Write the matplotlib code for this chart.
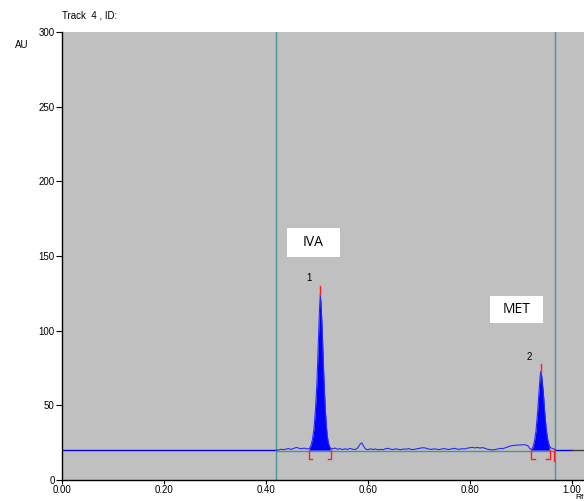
import matplotlib
matplotlib.use("Agg")
import matplotlib.pyplot as plt
from matplotlib.patches import Rectangle

plt.rcParams['font.family'] = ['Liberation Sans', 'DejaVu Sans']

# --- data ---
BASELINE = 20.0
track_start, track_end = 0.42, 0.968

rf = [0.420, 0.425, 0.430, 0.435, 0.440, 0.445, 0.450, 0.455, 0.460, 0.465,
      0.470, 0.475, 0.480, 0.485,
      0.488, 0.491, 0.494, 0.497, 0.500, 0.503, 0.505, 0.5065, 0.508, 0.510,
      0.512, 0.514, 0.516, 0.518, 0.520, 0.522, 0.524, 0.526,
      0.530, 0.535, 0.540, 0.545, 0.550, 0.555, 0.560, 0.565, 0.570, 0.575,
      0.580, 0.585, 0.588, 0.591, 0.595, 0.600, 0.605, 0.610, 0.615, 0.620,
      0.625, 0.630, 0.635, 0.640, 0.645, 0.650, 0.655, 0.660, 0.665, 0.670,
      0.675, 0.680, 0.685, 0.690, 0.695, 0.700, 0.705, 0.710, 0.715, 0.720,
      0.725, 0.730, 0.735, 0.740, 0.745, 0.750, 0.755, 0.760, 0.765, 0.770,
      0.775, 0.780, 0.785, 0.790, 0.795, 0.800, 0.805, 0.810, 0.815, 0.820,
      0.825, 0.830, 0.835, 0.840, 0.845, 0.850, 0.855, 0.860, 0.865, 0.870,
      0.875, 0.880, 0.885, 0.890, 0.895, 0.900, 0.905, 0.910, 0.914, 0.918,
      0.921,
      0.924, 0.927, 0.930, 0.933, 0.936, 0.938, 0.939, 0.941, 0.944, 0.947,
      0.950, 0.953, 0.956, 0.959, 0.962, 0.965, 0.968]
au = [20.0, 20.2, 20.6, 20.3, 20.8, 21.0, 20.5, 21.3, 21.8, 21.2,
      20.9, 21.4, 20.8, 21.0,
      23.0, 27.0, 34.0, 47.0, 66.0, 95.0, 115.0, 124.0, 118.0, 102.0,
      82.0, 64.0, 49.0, 38.0, 30.0, 25.5, 23.0, 21.5,
      20.8, 21.4, 20.6, 21.0, 20.4, 20.9, 20.5, 21.2, 20.6, 20.4,
      21.5, 24.2, 24.8, 23.0, 20.8, 20.3, 20.9, 20.4, 20.8, 20.2,
      20.5, 20.3, 21.0, 21.2, 20.6, 20.4, 20.9, 20.5, 20.3, 20.8,
      20.6, 21.0, 20.5, 20.4, 20.9, 21.1, 21.5, 21.6, 21.2, 20.7,
      20.5, 20.9, 20.6, 20.4, 20.8, 21.0, 20.6, 20.5, 20.9, 21.2,
      20.7, 20.6, 21.0, 20.8, 21.3, 21.6, 21.9, 21.5, 21.8, 21.4,
      21.7, 21.2, 20.6, 20.3, 20.2, 20.4, 20.8, 21.2, 21.0, 21.6,
      22.2, 22.8, 23.1, 23.3, 23.4, 23.5, 23.6, 23.5, 23.0, 21.0,
      20.5,
      22.0, 26.0, 33.0, 45.0, 60.0, 69.0, 72.5, 70.0, 60.0, 46.0,
      34.0, 27.0, 23.0, 21.5, 21.2, 20.8, 20.2]

peak_labels = ['1', '2']
peak_rf = [0.5065, 0.939]
peak_top = [124.0, 72.5]
peak_marker_top = [130.0, 77.5]
peak_start = [0.484, 0.921]
peak_end = [0.528, 0.957]
compound_names = ['IVA', 'MET']

x_ticks = [0.0, 0.2, 0.4, 0.6, 0.8, 1.0]
y_ticks = [0, 50, 100, 150, 200, 250, 300]

BLUE = '#0000ff'
TRACE = '#2a2aff'
TEAL = '#4a9494'
RED = '#ff2020'

fig = plt.figure(figsize=(5.84, 5.01), dpi=100)
ax = fig.add_axes([0.1067, 0.0419, 0.8933, 0.8942])
ax.set_facecolor('#c0c0c0')
ax.set_xlim(0, 1.0242)
ax.set_ylim(0, 300)

# baseline outside the track
ax.plot([0, track_start], [BASELINE, BASELINE], color=BLUE, lw=1)
ax.plot([track_end, 1.0], [BASELINE, BASELINE], color=BLUE, lw=1)
ax.plot([1.0, 1.0242], [BASELINE, BASELINE], color='#404040', lw=1)
ax.plot([track_start, track_end], [BASELINE - 0.3, BASELINE - 0.3], color=TEAL, lw=1)

# track limits
ax.axvline(track_start, color=TEAL, lw=1)
ax.axvline(track_end, color=TEAL, lw=1)

# trace and filled peaks
ax.plot(rf, au, color=TRACE, lw=0.8)
for s, e in zip(peak_start, peak_end):
    ax.fill_between(rf, BASELINE, au, where=[s <= r <= e for r in rf],
                    color=BLUE, lw=0)

# red peak markers and brackets
for i in range(len(peak_rf)):
    ax.plot([peak_rf[i], peak_rf[i]], [peak_top[i], peak_marker_top[i]], color=RED, lw=1)
    s, e = peak_start[i], peak_end[i]
    ax.plot([s, s, s + 0.0065], [BASELINE, 14, 14], color=RED, lw=1)
    ax.plot([e, e, e - 0.0065], [BASELINE, 14, 14], color=RED, lw=1)
    ax.text(peak_rf[i] - 0.022, peak_marker_top[i] + 5, peak_labels[i],
            fontsize=7, ha='center', va='center')
ax.plot([0.965, 0.965], [BASELINE, 13], color=RED, lw=1)

# compound boxes
boxes = [(0.441, 149.4, 0.104, 19.4), (0.840, 105.2, 0.104, 18.0)]
for name, (bx, by, bw, bh) in zip(compound_names, boxes):
    ax.add_patch(Rectangle((bx, by), bw, bh, facecolor='white', edgecolor='none', zorder=5))
    ax.text(bx + bw / 2, by + bh / 2, name, fontsize=10, ha='center', va='center',
            zorder=6, family=['Open Sans', 'DejaVu Sans'])

# axes styling
for side in ['top', 'right']:
    ax.spines[side].set_visible(False)
ax.spines['left'].set_linewidth(1)
ax.spines['bottom'].set_linewidth(1)
ax.set_xticks(x_ticks)
ax.set_xticklabels([f'{v:.2f}' for v in x_ticks])
ax.set_yticks(y_ticks)
ax.tick_params(axis='both', labelsize=7, length=4, width=0.8, pad=1.5)
ax.tick_params(axis='x', length=3, pad=0.5)

fig.text(62 / 584, 1 - 16 / 501, 'Track  4 , ID:', fontsize=7, ha='left', va='center')
fig.text(15 / 584, 1 - 45 / 501, 'AU', fontsize=7, ha='left', va='center')
fig.text(575 / 584, 0.0, 'Rf', fontsize=6, ha='left', va='bottom')

fig.savefig('out.png', dpi=100)
